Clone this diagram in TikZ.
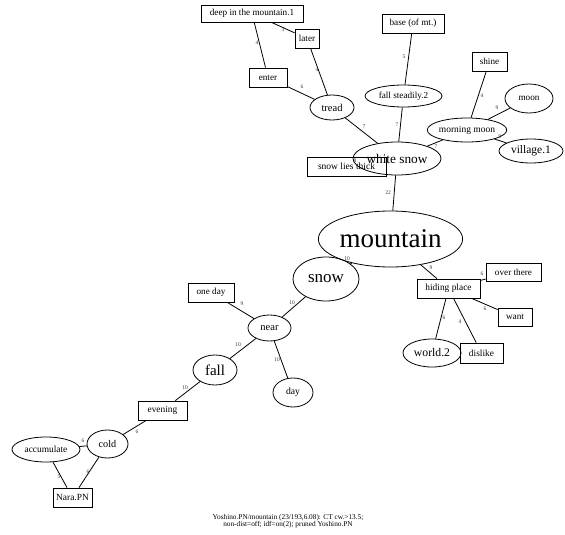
\documentclass[tikz,border=0pt]{standalone}
\usepackage{fontspec}
\setmainfont{Liberation Serif}
\usetikzlibrary{shapes.geometric}
\newcommand\fsz[1]{\fontsize{#1}{#1}\selectfont}
\tikzset{
  box/.style={draw, rectangle, inner sep=0pt, line width=0.8pt},
  ell/.style={draw, ellipse, inner sep=0pt, line width=0.8pt},
  elab/.style={font=\fsz{5.5}, inner sep=0pt, text=black!80},
  conn/.style={line width=0.8pt},
  sz/.style 2 args={minimum width=#1pt, minimum height=#2pt},
}
\begin{document}
\begin{tikzpicture}[x=1pt,y=-1pt]
\useasboundingbox (0,0) rectangle (565,535);
% nodes
\node[box, sz={102}{17}, font=\fsz{9.2}] (deep) at (252,13.5) {deep in the mountain.1};
\node[box, sz={24}{19}, font=\fsz{9.2}] (later) at (307,38.5) {later};
\node[box, sz={38}{19}, font=\fsz{9.2}] (enter) at (268,77.5) {enter};
\node[ell, sz={44}{25}, font=\fsz{10.5}] (tread) at (332,107.5) {tread};
\node[box, sz={62}{19}, font=\fsz{9.2}] (base) at (413,23.5) {base (of mt.)};
\node[ell, sz={77}{22}, font=\fsz{9.2}] (fallst) at (403.5,96) {fall steadily.2};
\node[box, sz={35}{19}, font=\fsz{9.2}] (shine) at (489.5,61.5) {shine};
\node[ell, sz={48}{29}, font=\fsz{9.2}] (moon) at (529,98.5) {moon};
\node[ell, sz={78}{24}, font=\fsz{9.5}] (mmoon) at (467,130) {morning moon};
\node[ell, sz={64}{24}, font=\fsz{11.5}] (village) at (531,151) {village.1};
\node[ell, sz={88}{33}, font=\fsz{13.3}] (wsnow) at (397,158.5) {white snow};
\node[box, sz={79}{19}, font=\fsz{9.5}] (thick) at (346.5,166.5) {snow lies thick};
\node[ell, sz={137}{56}, font=\fsz{27}] (mountain) at (390.5,239) {mountain};
\node[ell, sz={66}{44}, font=\fsz{17}] (snow) at (326,279) {snow};
\node[box, sz={63}{19}, font=\fsz{9.4}] (hiding) at (448.5,288.5) {hiding place};
\node[box, sz={55}{18}, font=\fsz{9.2}] (over) at (513.5,272) {over there};
\node[box, sz={34}{18}, font=\fsz{9.2}] (want) at (515,317) {want};
\node[ell, sz={58}{28}, font=\fsz{11.7}] (world) at (432,353) {world.2};
\node[box, sz={43}{20}, font=\fsz{9.4}] (dislike) at (481.5,353) {dislike};
\node[box, sz={46}{19}, font=\fsz{9.2}] (oneday) at (211,292.5) {one day};
\node[ell, sz={43}{26}, font=\fsz{10.5}] (near) at (269.5,328) {near};
\node[ell, sz={44}{30}, font=\fsz{15}] (fall) at (215,370) {fall};
\node[ell, sz={40}{29}, font=\fsz{9.7}] (day) at (293,392.5) {day};
\node[box, sz={49}{19}, font=\fsz{9.4}] (evening) at (162.5,410.5) {evening};
\node[ell, sz={41}{28}, font=\fsz{10.2}] (cold) at (107.5,444) {cold};
\node[ell, sz={68}{25}, font=\fsz{9.4}] (accum) at (46,449.5) {accumulate};
\node[box, sz={39}{19}, font=\fsz{9.4}] (nara) at (72.5,497.5) {Nara.PN};
% connectors
\draw[conn] (deep) -- (enter) node[elab] at (257,43) {4};
\draw[conn] (deep) -- (later) node[elab] at (283,30) {3};
\draw[conn] (later) -- (tread) node[elab] at (317,70) {4};
\draw[conn] (enter) -- (tread) node[elab] at (302,87) {6};
\draw[conn] (tread) -- (wsnow) node[elab] at (364,127) {7};
\draw[conn] (base) -- (fallst) node[elab] at (404,57) {5};
\draw[conn] (fallst) -- (wsnow) node[elab] at (397,125) {7};
\draw[conn] (shine) -- (mmoon) node[elab] at (482,96) {4};
\draw[conn] (moon) -- (mmoon) node[elab] at (497,108) {9};
\draw[conn] (mmoon) -- (wsnow) node[elab] at (436,147) {7};
\draw[conn] (mmoon) -- (village) node[elab] at (500,137) {9};
\node[elab] (l8) at (355,161) {8};
\draw[conn] (wsnow) -- (mountain) node[elab] at (388,193) {22};
\draw[conn] (mountain) -- (snow) node[elab] at (347,259) {10};
\draw[conn] (mountain) -- (hiding) node[elab] at (431,268) {9};
\draw[conn] (hiding) -- (over) node[elab] at (482,274) {6};
\draw[conn] (hiding) -- (want) node[elab] at (485,309) {6};
\draw[conn] (hiding) -- (world) node[elab] at (444,318) {6};
\draw[conn] (hiding) -- (dislike) node[elab] at (460,322) {4};
\draw[conn] (snow) -- (near) node[elab] at (292,303) {10};
\draw[conn] (oneday) -- (near) node[elab] at (242,304) {9};
\draw[conn] (near) -- (fall) node[elab] at (238,345) {10};
\draw[conn] (near) -- (day) node[elab] at (277,360) {10};
\draw[conn] (fall) -- (evening) node[elab] at (185,388) {10};
\draw[conn] (evening) -- (cold) node[elab] at (137,432) {6};
\draw[conn] (accum) -- (cold) node[elab] at (83,441) {6};
\draw[conn] (accum) -- (nara) node[elab] at (59,477) {5};
\draw[conn] (cold) -- (nara) node[elab] at (88,472) {6};
% caption
\node[font=\fsz{7.3}, align=center, inner sep=0pt] (cap) at (288,521)
  {Yoshino.PN/mountain (23/193,6.08): CT cw.>13.5;\\[-0.2pt]non-dist=off; idf=on(2); pruned Yoshino.PN};
\end{tikzpicture}
\end{document}
